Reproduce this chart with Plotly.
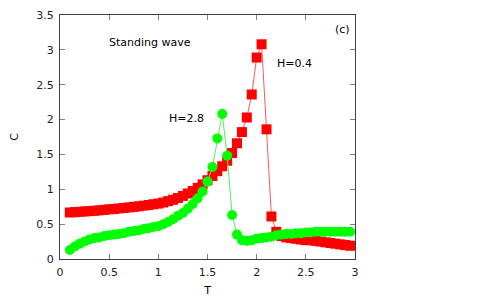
import plotly.graph_objects as go

# temperatures (both series share the same grid)
T = [round(0.1 + 0.05 * i, 2) for i in range(58)]

# H = 0.4  (red squares)
C_h04 = [0.667, 0.672, 0.677, 0.682, 0.687, 0.692, 0.698, 0.705, 0.712, 0.718,
         0.725, 0.732, 0.740, 0.748, 0.756, 0.765, 0.775, 0.785, 0.795, 0.810,
         0.830, 0.850, 0.875, 0.905, 0.940, 0.975, 1.02, 1.07, 1.13, 1.19,
         1.26, 1.33, 1.41, 1.52, 1.66, 1.82, 2.03, 2.36, 2.89, 3.08,
         1.86, 0.61, 0.39, 0.33, 0.31, 0.30, 0.29, 0.28, 0.27, 0.27,
         0.26, 0.25, 0.24, 0.23, 0.22, 0.21, 0.20, 0.19]

# H = 2.8  (green circles)
C_h28 = [0.13, 0.18, 0.22, 0.25, 0.28, 0.30, 0.31, 0.33, 0.34, 0.35,
         0.36, 0.37, 0.39, 0.40, 0.41, 0.43, 0.44, 0.46, 0.47, 0.50,
         0.53, 0.57, 0.62, 0.66, 0.72, 0.79, 0.87, 0.97, 1.11, 1.32,
         1.73, 2.08, 1.48, 0.63, 0.35, 0.27, 0.26, 0.27, 0.29, 0.30,
         0.31, 0.32, 0.34, 0.35, 0.36, 0.36, 0.37, 0.37, 0.38, 0.38,
         0.39, 0.39, 0.39, 0.39, 0.39, 0.39, 0.39, 0.39]

x_ticks = [0, 0.5, 1, 1.5, 2, 2.5, 3]
x_labels = ["0", "0.5", "1", "1.5", "2", "2.5", "3"]
y_ticks = [0, 0.5, 1, 1.5, 2, 2.5, 3, 3.5]
y_labels = ["0", "0.5", "1", "1.5", "2", "2.5", "3", "3.5"]

FONT = "DejaVu Sans"

fig = go.Figure()
fig.add_trace(go.Scatter(
    x=T, y=C_h04, mode="lines+markers", name="H=0.4",
    line=dict(color="rgb(255,90,90)", width=1),
    marker=dict(symbol="square", size=10, color="#ff0000", line=dict(width=0)),
    cliponaxis=True,
))
fig.add_trace(go.Scatter(
    x=T, y=C_h28, mode="lines+markers", name="H=2.8",
    line=dict(color="rgb(90,235,90)", width=1),
    marker=dict(symbol="circle", size=10, color="#00ff00", line=dict(width=0)),
    cliponaxis=True,
))

axis_common = dict(
    showline=True, linecolor="#404040", linewidth=1, mirror="allticks",
    ticks="inside", ticklen=5, tickcolor="#808080", tickwidth=1,
    showgrid=False, zeroline=False, automargin=False,
    tickfont=dict(family=FONT, size=11, color="#222222"),
)

fig.update_layout(
    width=500, height=300,
    margin=dict(l=52, r=153, t=7, b=49, pad=0),
    paper_bgcolor="white", plot_bgcolor="white",
    showlegend=False,
    font=dict(family=FONT, size=11, color="black"),
    xaxis=dict(range=[0, 3], tickvals=x_ticks, ticktext=x_labels,
               title=dict(text="T", font=dict(family=FONT, size=11), standoff=8),
               ticklabelstandoff=3, **axis_common),
    yaxis=dict(range=[0, 3.5], tickvals=y_ticks, ticktext=y_labels,
               title=dict(text="C", font=dict(family=FONT, size=11), standoff=17),
               ticklabelstandoff=3, **axis_common),
    annotations=[
        dict(x=0.918, y=3.10, xref="x", yref="y", text="Standing wave",
             showarrow=False, font=dict(family=FONT, size=11, color="black")),
        dict(x=2.87, y=3.29, xref="x", yref="y", text="(c)",
             showarrow=False, font=dict(family=FONT, size=11, color="black")),
        dict(x=2.38, y=2.81, xref="x", yref="y", text="H=0.4",
             showarrow=False, font=dict(family=FONT, size=11, color="black")),
        dict(x=1.284, y=2.01, xref="x", yref="y", text="H=2.8",
             showarrow=False, font=dict(family=FONT, size=11, color="black")),
    ],
)

fig.write_html("out.html")
